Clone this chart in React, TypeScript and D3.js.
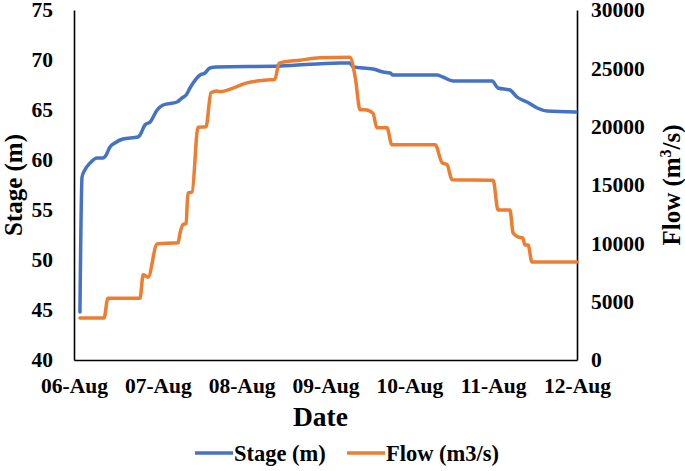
import React, { useEffect, useRef } from "react";
import * as d3 from "d3";

// hours since 06-Aug 00:00
const stageHours = [1.7, 2.3, 3.1, 4.6, 6.6, 8.3, 9.2, 10.3, 11.7, 14.0, 18.3, 18.9, 20.3, 21.8, 23.8, 25.5, 29.5, 30.9, 32.1, 33.2, 34.1, 36.1, 37.5, 38.9, 40.9, 59.0, 76.2, 79.0, 79.9, 85.6, 88.5, 90.5, 91.3, 103.9, 105.6, 108.5, 119.7, 121.4, 124.8, 126.8, 129.7, 132.6, 135.4, 143.7];
const stageValues = [44.8, 58.3, 59.0, 59.7, 60.2, 60.2, 60.5, 61.3, 61.7, 62.1, 62.3, 62.5, 63.5, 63.8, 65.0, 65.5, 65.8, 66.2, 66.5, 67.2, 67.7, 68.5, 68.7, 69.2, 69.3, 69.4, 69.7, 69.7, 69.3, 69.1, 68.8, 68.7, 68.5, 68.5, 68.3, 67.9, 67.9, 67.2, 67.0, 66.3, 65.8, 65.2, 64.9, 64.8];

const flowHours = [1.7, 8.6, 9.7, 18.9, 19.8, 21.2, 23.8, 29.8, 30.3, 31.2, 32.1, 32.6, 33.8, 35.5, 37.8, 39.2, 40.9, 41.8, 45.5, 49.5, 55.3, 57.5, 58.7, 64.7, 70.4, 79.0, 80.5, 81.9, 83.3, 85.6, 86.7, 89.6, 91.0, 103.4, 105.4, 106.8, 108.2, 120.0, 121.4, 124.8, 125.7, 127.1, 128.5, 129.1, 130.0, 131.1, 144.0];
const flowValues = [3600, 3600, 5300, 5300, 7300, 7100, 9950, 10050, 10800, 11600, 11700, 14300, 14400, 19950, 20000, 22900, 23050, 23000, 23300, 23750, 24000, 24050, 25450, 25700, 25900, 25950, 24250, 21450, 21450, 21150, 19900, 19900, 18450, 18450, 16900, 16750, 15450, 15400, 12850, 12850, 10900, 10550, 10450, 9850, 9850, 8400, 8400];

const dateTicks = [0, 24, 48, 72, 96, 120, 144];
const dateLabels = ["06-Aug", "07-Aug", "08-Aug", "09-Aug", "10-Aug", "11-Aug", "12-Aug"];
const stageTicks = [40, 45, 50, 55, 60, 65, 70, 75];
const flowTicks = [0, 5000, 10000, 15000, 20000, 25000, 30000];

const BLUE = "#4472C4";
const ORANGE = "#ED7D31";
const FONT = "'Liberation Serif', 'Times New Roman', serif";

const App = () => {
  const ref = useRef<SVGSVGElement>(null);

  useEffect(() => {
    const width = 685;
    const height = 471;
    const m = { top: 10, right: 108, bottom: 111, left: 74 };

    const svg = d3.select(ref.current).attr("width", width).attr("height", height);
    svg.selectAll("*").remove();
    svg.append("rect").attr("width", width).attr("height", height).attr("fill", "#fff");

    const x = d3.scaleLinear().domain([0, 144]).range([m.left, width - m.right]);
    const yL = d3.scaleLinear().domain([40, 75]).range([height - m.bottom, m.top]);
    const yR = d3.scaleLinear().domain([0, 30000]).range([height - m.bottom, m.top]);

    const bottomY = height - m.bottom;
    const rightX = width - m.right;

    // axes
    const axisStyle = (g: any) => {
      g.select(".domain").attr("stroke", "#000").attr("stroke-width", 1.6);
      g.selectAll(".tick line").remove();
      g.selectAll(".tick text")
        .attr("font-family", FONT)
        .attr("font-weight", "bold")
        .attr("font-size", 21.5)
        .attr("fill", "#000");
    };

    svg.append("g")
      .attr("transform", `translate(0,${bottomY})`)
      .call(d3.axisBottom(x).tickValues(dateTicks).tickSizeOuter(0)
        .tickFormat((d, i) => dateLabels[i]).tickPadding(12))
      .call(axisStyle);

    svg.append("g")
      .attr("transform", `translate(${m.left},0)`)
      .call(d3.axisLeft(yL).tickValues(stageTicks).tickSizeOuter(0).tickPadding(15))
      .call(axisStyle);

    svg.append("g")
      .attr("transform", `translate(${rightX},0)`)
      .call(d3.axisRight(yR).tickValues(flowTicks).tickSizeOuter(0)
        .tickFormat(d3.format("d")).tickPadding(8))
      .call(axisStyle);

    // lines
    const stageLine = d3.line<number>()
      .x((d, i) => x(stageHours[i]))
      .y(d => yL(d))
      .curve(d3.curveMonotoneX);
    const flowLine = d3.line<number>()
      .x((d, i) => x(flowHours[i]))
      .y(d => yR(d))
      .curve(d3.curveMonotoneX);

    svg.append("path").datum(stageValues)
      .attr("d", stageLine)
      .attr("fill", "none")
      .attr("stroke", BLUE)
      .attr("stroke-width", 3.5)
      .attr("stroke-linejoin", "round")
      .attr("stroke-linecap", "round");

    svg.append("path").datum(flowValues)
      .attr("d", flowLine)
      .attr("fill", "none")
      .attr("stroke", ORANGE)
      .attr("stroke-width", 3.5)
      .attr("stroke-linejoin", "round")
      .attr("stroke-linecap", "round");

    // titles
    svg.append("text")
      .attr("x", (m.left + rightX) / 2 - 5)
      .attr("y", 426)
      .attr("text-anchor", "middle")
      .attr("font-family", FONT).attr("font-weight", "bold").attr("font-size", 27.5)
      .text("Date");

    svg.append("text")
      .attr("transform", `translate(22,${(m.top + bottomY) / 2}) rotate(-90)`)
      .attr("text-anchor", "middle")
      .attr("font-family", FONT).attr("font-weight", "bold").attr("font-size", 25)
      .text("Stage (m)");

    const rt = svg.append("text")
      .attr("transform", `translate(680,${(m.top + bottomY) / 2}) rotate(-90)`)
      .attr("text-anchor", "middle")
      .attr("font-family", FONT).attr("font-weight", "bold").attr("font-size", 25);
    rt.append("tspan").text("Flow (m");
    rt.append("tspan").attr("dy", -9).attr("font-size", 16).text("3");
    rt.append("tspan").attr("dy", 9).text("/s)");

    // legend
    const legend = [
      { label: "Stage (m)", color: BLUE, x0: 195 },
      { label: "Flow (m3/s)", color: ORANGE, x0: 347 },
    ];
    legend.forEach(l => {
      svg.append("line")
        .attr("x1", l.x0).attr("x2", l.x0 + 38)
        .attr("y1", 453).attr("y2", 453)
        .attr("stroke", l.color).attr("stroke-width", 3.5);
      svg.append("text")
        .attr("x", l.x0 + 39).attr("y", 461)
        .attr("font-family", FONT).attr("font-weight", "bold").attr("font-size", 22.5)
        .text(l.label);
    });
  }, []);

  return <svg ref={ref} style={{ position: "absolute", left: 0, top: 0 }}></svg>;
};

export default App;
